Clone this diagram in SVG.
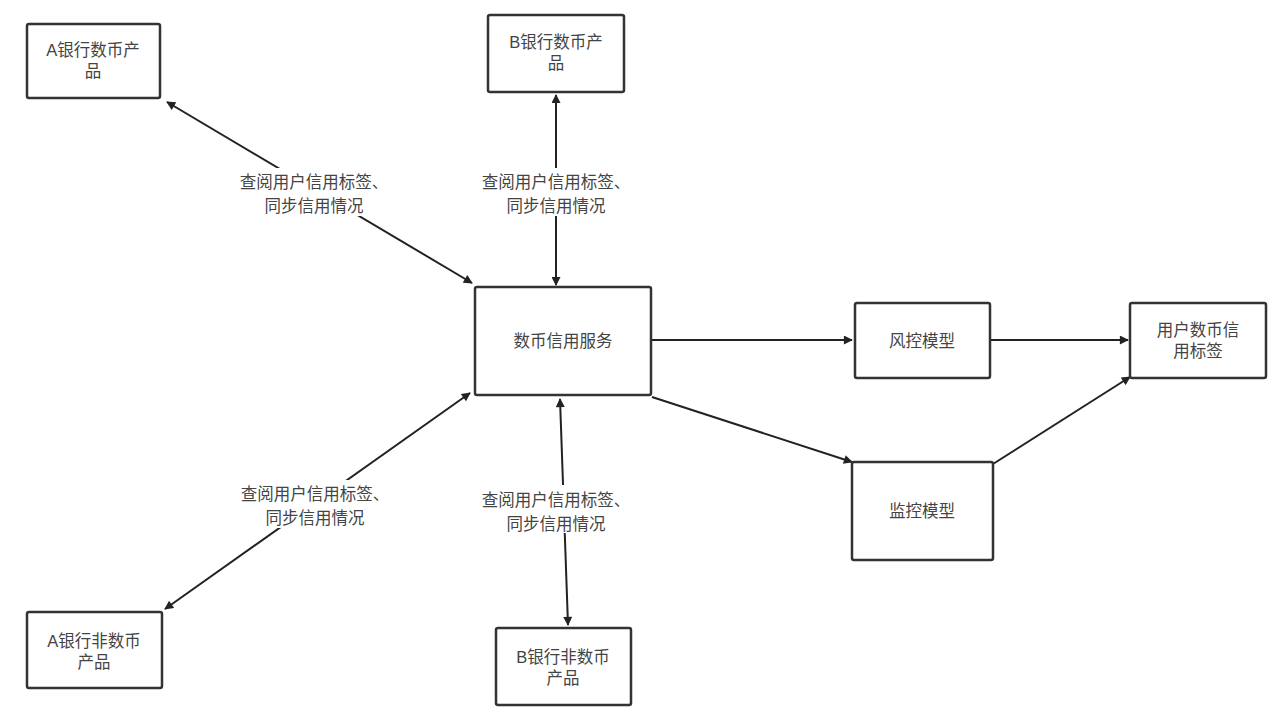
<svg xmlns="http://www.w3.org/2000/svg" width="1280" height="720" viewBox="0 0 1280 720">
<style>
.box{fill:#fff;stroke:#333;stroke-width:2.5}
.t{font-family:"Liberation Sans","Noto Sans CJK SC",sans-serif;font-size:16.5px;fill:#444;text-anchor:middle}
.e{stroke:#222;stroke-width:2;fill:none}
</style>
<defs>
<marker id="ah" viewBox="0 0 10 10" refX="9" refY="5" markerWidth="11" markerHeight="9" markerUnits="userSpaceOnUse" orient="auto-start-reverse"><path d="M0,0 L10,5 L0,10 z" fill="#222"/></marker>
</defs>
<rect width="1280" height="720" fill="#fff"/>
<g id="connectors">
<line class="e" x1="167" y1="102" x2="472" y2="283" marker-start="url(#ah)" marker-end="url(#ah)"/>
<line class="e" x1="556" y1="95" x2="556" y2="285" marker-start="url(#ah)" marker-end="url(#ah)"/>
<line class="e" x1="470" y1="393" x2="165" y2="609" marker-start="url(#ah)" marker-end="url(#ah)"/>
<line class="e" x1="560" y1="399" x2="568" y2="625" marker-start="url(#ah)" marker-end="url(#ah)"/>
<line class="e" x1="652" y1="340" x2="852" y2="340" marker-end="url(#ah)"/>
<line class="e" x1="991" y1="340" x2="1128" y2="340" marker-end="url(#ah)"/>
<line class="e" x1="652" y1="397" x2="852" y2="462" marker-end="url(#ah)"/>
<line class="e" x1="993" y1="464" x2="1130" y2="377" marker-end="url(#ah)"/>
<rect x="225" y="168" width="180" height="48" fill="#fff"/>
<rect x="466" y="168" width="180" height="48" fill="#fff"/>
<rect x="225" y="480" width="180" height="48" fill="#fff"/>
<rect x="466" y="485" width="180" height="48" fill="#fff"/>
<text class="t" x="314" y="188">查阅用户信用标签、</text>
<text class="t" x="314" y="212">同步信用情况</text>
<text class="t" x="556" y="188">查阅用户信用标签、</text>
<text class="t" x="556" y="212">同步信用情况</text>
<text class="t" x="315" y="500">查阅用户信用标签、</text>
<text class="t" x="315" y="524">同步信用情况</text>
<text class="t" x="556" y="506">查阅用户信用标签、</text>
<text class="t" x="556" y="530">同步信用情况</text>
</g>
<g id="a-coin"><rect class="box" x="27" y="24" width="133" height="74" rx="2"/><text class="t" x="93" y="56">A银行数币产</text><text class="t" x="93" y="77">品</text></g>
<g id="b-coin"><rect class="box" x="488" y="15" width="136" height="77" rx="2"/><text class="t" x="556" y="48">B银行数币产</text><text class="t" x="556" y="69">品</text></g>
<g id="service"><rect class="box" x="475" y="287" width="176" height="108" rx="2"/><text class="t" x="563" y="347">数币信用服务</text></g>
<g id="risk"><rect class="box" x="855" y="303" width="135" height="75" rx="2"/><text class="t" x="922" y="347">风控模型</text></g>
<g id="label"><rect class="box" x="1130" y="303" width="136" height="75" rx="2"/><text class="t" x="1198" y="336">用户数币信</text><text class="t" x="1198" y="357">用标签</text></g>
<g id="monitor"><rect class="box" x="852" y="462" width="141" height="98" rx="2"/><text class="t" x="922" y="517">监控模型</text></g>
<g id="a-noncoin"><rect class="box" x="27" y="612" width="135" height="76" rx="2"/><text class="t" x="94" y="647">A银行非数币</text><text class="t" x="94" y="668">产品</text></g>
<g id="b-noncoin"><rect class="box" x="496" y="628" width="135" height="77" rx="2"/><text class="t" x="563" y="663">B银行非数币</text><text class="t" x="563" y="684">产品</text></g>
</svg>
